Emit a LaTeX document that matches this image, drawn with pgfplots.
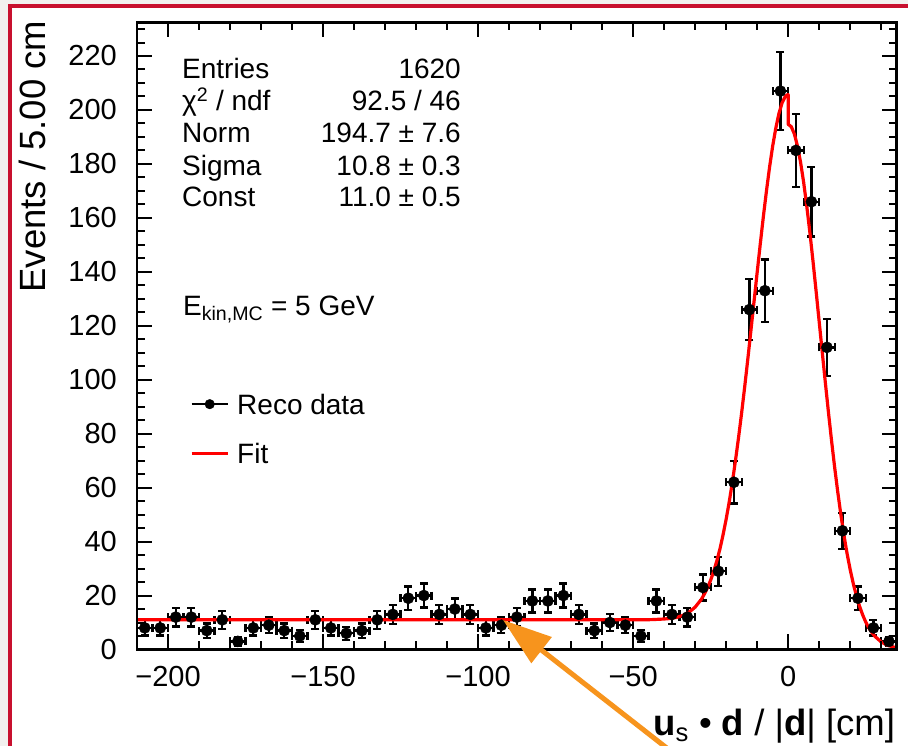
\documentclass[border=0pt]{standalone}
\usepackage{fontspec}
\setmainfont{Liberation Sans}
\usepackage{pgfplots}
\pgfplotsset{compat=1.18}
\usepackage{pgfplotstable}
\usetikzlibrary{arrows.meta}
\definecolor{fitred}{RGB}{255,0,0}
\definecolor{framered}{RGB}{200,16,46}
\definecolor{bggray}{RGB}{242,240,238}
\definecolor{arroworange}{RGB}{247,148,29}

\pgfplotstableread{
x y ex ey
-207.5 8 2.5 2.83
-202.5 8 2.5 2.83
-197.5 12 2.5 3.46
-192.5 12 2.5 3.46
-187.5 7 2.5 2.65
-182.5 11 2.5 3.32
-177.5 3 2.5 1.73
-172.5 8 2.5 2.83
-167.5 9 2.5 3.00
-162.5 7 2.5 2.65
-157.5 5 2.5 2.24
-152.5 11 2.5 3.32
-147.5 8 2.5 2.83
-142.5 6 2.5 2.45
-137.5 7 2.5 2.65
-132.5 11 2.5 3.32
-127.5 13 2.5 3.61
-122.5 19 2.5 4.36
-117.5 20 2.5 4.47
-112.5 13 2.5 3.61
-107.5 15 2.5 3.87
-102.5 13 2.5 3.61
-97.5 8 2.5 2.83
-92.5 9 2.5 3.00
-87.5 12 2.5 3.46
-82.5 18 2.5 4.24
-77.5 18 2.5 4.24
-72.5 20 2.5 4.47
-67.5 13 2.5 3.61
-62.5 7 2.5 2.65
-57.5 10 2.5 3.16
-52.5 9 2.5 3.00
-47.5 5 2.5 2.24
-42.5 18 2.5 4.24
-37.5 13 2.5 3.61
-32.5 12 2.5 3.46
-27.5 23 2.5 4.80
-22.5 29 2.5 5.39
-17.5 62 2.5 7.87
-12.5 126 2.5 11.22
-7.5 133 2.5 11.53
-2.5 207 2.5 14.39
2.5 185 2.5 13.60
7.5 166 2.5 12.88
12.5 112 2.5 10.58
17.5 44 2.5 6.63
22.5 19 2.5 4.36
27.5 8 2.5 2.83
32.5 3 2.5 1.73
}\datatable

\begin{document}
\begin{tikzpicture}[x=1pt,y=1pt]
\clip (0,0) rectangle (908,746);
\fill[bggray] (0,0) rectangle (908,746);
\fill[white] (10,-5) rectangle (915,740);
\draw[framered, line width=3.5pt] (10,-10) -- (10,740) -- (920,740);
\begin{axis}[
  at={(137pt,96.5pt)}, anchor=south west,
  scale only axis, width=759.7pt, height=627.2pt,
  xmin=-210, xmax=35, ymin=0, ymax=232.5,
  axis on top,
  axis line style={line width=2.6pt},
  tick align=inside,
  xtick={-200,-150,-100,-50,0},
  xticklabels={−200,−150,−100,−50,0},
  minor xtick={-210,-200,...,30},
  ytick={0,20,...,220},
  minor ytick={0,5,...,230},
  major tick length=15pt, minor tick length=8pt,
  every tick/.style={black, line width=2pt},
  tick label style={font=\fontsize{29}{34}\selectfont},
  /pgf/number format/assume math mode=true,
  xticklabel style={inner sep=0pt, yshift=-17pt},
  yticklabel style={inner sep=0pt, xshift=-20pt},
  xlabel={\textbf{u}\textsubscript{s} • \textbf{d} / |\textbf{d}| [cm]},
  ylabel={Events / 5.00 cm},
  label style={font=\fontsize{36.5}{42}\selectfont, inner sep=0pt},
  xlabel style={at={(axis description cs:0.998,-0.1379)}, anchor=base east},
  ylabel style={at={(axis description cs:-0.1198,1.003)}, anchor=base east},
  legend style={at={(axis description cs:0.0698,0.4074)}, anchor=north west,
    draw=none, fill=none, inner sep=0pt, row sep=29pt,
    font=\fontsize{28}{34}\selectfont,
    nodes={inner sep=0pt, text height=20pt, text depth=0pt},
    /tikz/every odd column/.append style={column sep=8pt}},
  legend cell align=left,
]
\addplot[black, only marks, mark=*, mark size=5.6pt,
  legend image code/.code={\draw[line width=2.4pt] (0pt,0pt) -- (36pt,0pt); \fill (18pt,0pt) circle (4.8pt);},
  error bars/.cd, x dir=both, x explicit, y dir=both, y explicit,
  error bar style={line width=2.3pt, black},
  error mark=-,
  error mark options={rotate=90, line width=2.3pt, mark size=4pt, black}]
  table[x=x, y=y, x error=ex, y error=ey] {\datatable};
\addlegendentry{Reco data}
\addplot[fitred, line width=3.2pt, line join=round,
  legend image code/.code={\draw[fitred, line width=3pt] (0pt,0pt) -- (36pt,0pt);}]
  coordinates {
  (-210,11) (-60,11) (-50,11.0) (-44,11.07) (-40,11.3) (-38,11.5) (-36,11.9)
  (-34,12.6) (-32,13.8) (-30,15.7) (-28,18.6) (-27,20.6) (-26,22.9) (-25,25.7)
  (-24,29.0) (-23,32.9) (-22,37.3) (-21,42.5) (-20,48.3) (-19,54.8) (-18,62.0)
  (-17,70.0) (-16,78.6) (-15,87.8) (-14,97.6) (-13,107.8) (-12,118.4) (-11,129.1)
  (-10,139.8) (-9,150.3) (-8,160.5) (-7,170.0) (-6,178.8) (-5,186.6) (-4,193.2)
  (-3,198.6) (-2,202.5) (-1,204.9) (-0.5,205.5) (0,205.7)
  (0,194.7) (1,193.8) (2,191.1) (3,186.6) (4,180.6) (5,173.1) (6,164.3)
  (7,154.6) (8,144.0) (9,132.9) (10,121.5) (11,110.1) (12,98.8) (13,87.8)
  (14,77.3) (15,67.4) (16,58.3) (17,49.9) (18,42.3) (19,35.5) (20,29.6)
  (21,24.4) (22,19.9) (23,16.1) (24,12.9) (25,10.2) (26,8.05) (27,6.27)
  (28,4.84) (30,2.80) (32,1.56) (35,0.61)
  };
\addlegendentry{Fit}
\begin{scope}[font=\fontsize{28}{34}\selectfont]
\node[anchor=base west, inner sep=0pt] at (axis description cs:0.0592,0.9096) {Entries};
\node[anchor=base east, inner sep=0pt] at (axis description cs:0.4265,0.9096) {1620};
\node[anchor=base west, inner sep=0pt] at (axis description cs:0.0592,0.8586) {χ\textsuperscript{2} / ndf};
\node[anchor=base east, inner sep=0pt] at (axis description cs:0.4265,0.8586) {92.5 / 46};
\node[anchor=base west, inner sep=0pt] at (axis description cs:0.0592,0.8076) {Norm};
\node[anchor=base east, inner sep=0pt] at (axis description cs:0.4265,0.8076) {194.7 ± 7.6};
\node[anchor=base west, inner sep=0pt] at (axis description cs:0.0592,0.7565) {Sigma};
\node[anchor=base east, inner sep=0pt] at (axis description cs:0.4265,0.7565) {10.8 ± 0.3};
\node[anchor=base west, inner sep=0pt] at (axis description cs:0.0592,0.7055) {Const};
\node[anchor=base east, inner sep=0pt] at (axis description cs:0.4265,0.7055) {11.0 ± 0.5};
\node[anchor=base west, inner sep=0pt] at (axis description cs:0.0605,0.5333) {E\textsubscript{kin,MC} = 5 GeV};
\end{scope}
\end{axis}
\draw[arroworange, line width=5pt, -{Triangle[length=49pt,width=32pt]}] (668,-3) -- (503,126);
\end{tikzpicture}
\end{document}
